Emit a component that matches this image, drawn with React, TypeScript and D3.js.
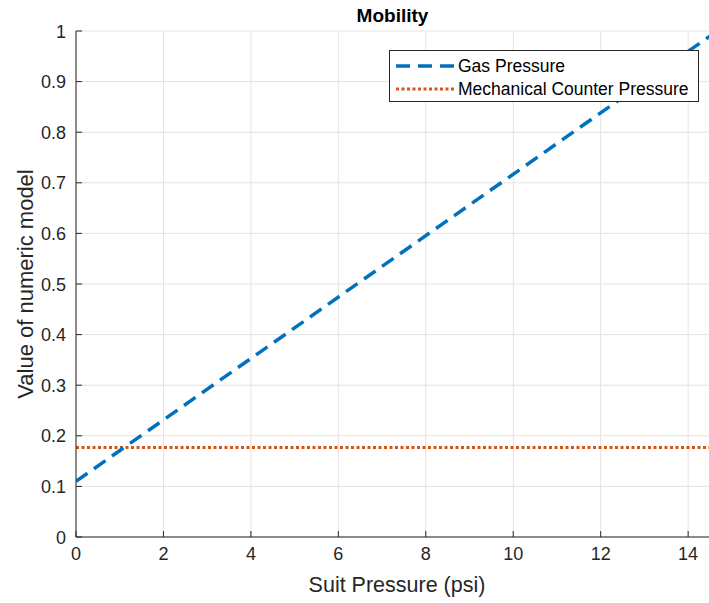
import React from "react";
import * as d3 from "d3";

const xTicks = [0, 2, 4, 6, 8, 10, 12, 14];
const yTicks = [0, 0.1, 0.2, 0.3, 0.4, 0.5, 0.6, 0.7, 0.8, 0.9, 1];
const gasX = [0, 14.5];
const gasY = [0.11, 0.99];
const mechX = [0, 14.5];
const mechY = [0.177, 0.177];
const seriesNames = ["Gas Pressure", "Mechanical Counter Pressure"];

const W = 709, H = 603;
const L = 76, R = 710, T = 31, B = 537;

export default function App() {
  const x = d3.scaleLinear().domain([0, 14.5]).range([L, R]);
  const y = d3.scaleLinear().domain([0, 1]).range([B, T]);
  const line = d3.line<[number, number]>().x(d => x(d[0])).y(d => y(d[1]));
  const gas = gasX.map((v, i) => [v, gasY[i]] as [number, number]);
  const mech = mechX.map((v, i) => [v, mechY[i]] as [number, number]);
  const font = "'Liberation Sans', Arial, sans-serif";
  const axisCol = "#262626";
  return (
    <svg width={W} height={H} style={{ position: "absolute", left: 0, top: 0, background: "#fff" }} fontFamily={font}>
      <rect x={0} y={0} width={W} height={H} fill="#fff" />
      {xTicks.map(t => (
        <line key={"gx" + t} x1={x(t)} x2={x(t)} y1={T} y2={B} stroke="#e3e3e3" strokeWidth={1} />
      ))}
      {yTicks.map(t => (
        <line key={"gy" + t} x1={L} x2={R} y1={y(t)} y2={y(t)} stroke="#e3e3e3" strokeWidth={1} />
      ))}
      <defs>
        <clipPath id="clip"><rect x={L} y={T} width={R - L} height={B - T} /></clipPath>
      </defs>
      <g clipPath="url(#clip)">
        <path d={line(mech) || ""} fill="none" stroke="#D95319" strokeWidth={3} strokeDasharray="3,2.5" />
        <path d={line(gas) || ""} fill="none" stroke="#0072BD" strokeWidth={3.5} strokeDasharray="14,8" />
      </g>
      <line x1={L} x2={L} y1={T} y2={B} stroke={axisCol} strokeWidth={1} />
      <line x1={L} x2={R} y1={B} y2={B} stroke={axisCol} strokeWidth={1} />
      {xTicks.map(t => (
        <g key={"tx" + t}>
          <line x1={x(t)} x2={x(t)} y1={B} y2={B - 6} stroke={axisCol} />
          <text x={x(t)} y={B + 23} textAnchor="middle" fontSize={18} fill={axisCol}>{t}</text>
        </g>
      ))}
      {yTicks.map(t => (
        <g key={"ty" + t}>
          <line x1={L} x2={L + 6} y1={y(t)} y2={y(t)} stroke={axisCol} />
          <text x={L - 10} y={y(t) + 6.5} textAnchor="end" fontSize={18} fill={axisCol}>{String(t)}</text>
        </g>
      ))}
      <text x={(L + 709) / 2} y={22} textAnchor="middle" fontSize={19} fontWeight="bold" fill="#000">Mobility</text>
      <text x={397} y={592} textAnchor="middle" fontSize={21.5} fill={axisCol}>Suit Pressure (psi)</text>
      <text transform={`translate(33,${(T + B) / 2}) rotate(-90)`} textAnchor="middle" fontSize={22} fill={axisCol}>Value of numeric model</text>
      <g>
        <rect x={389.5} y={50.5} width={309} height={51} fill="#fff" stroke={axisCol} strokeWidth={1} />
        <line x1={396} x2={455} y1={66} y2={66} stroke="#0072BD" strokeWidth={3.5} strokeDasharray="14,8" />
        <text x={458} y={72} fontSize={17.5} fill="#000">{seriesNames[0]}</text>
        <line x1={396} x2={455} y1={89} y2={89} stroke="#D95319" strokeWidth={3} strokeDasharray="3,2.5" />
        <text x={458} y={95} fontSize={17.5} fill="#000">{seriesNames[1]}</text>
      </g>
    </svg>
  );
}
